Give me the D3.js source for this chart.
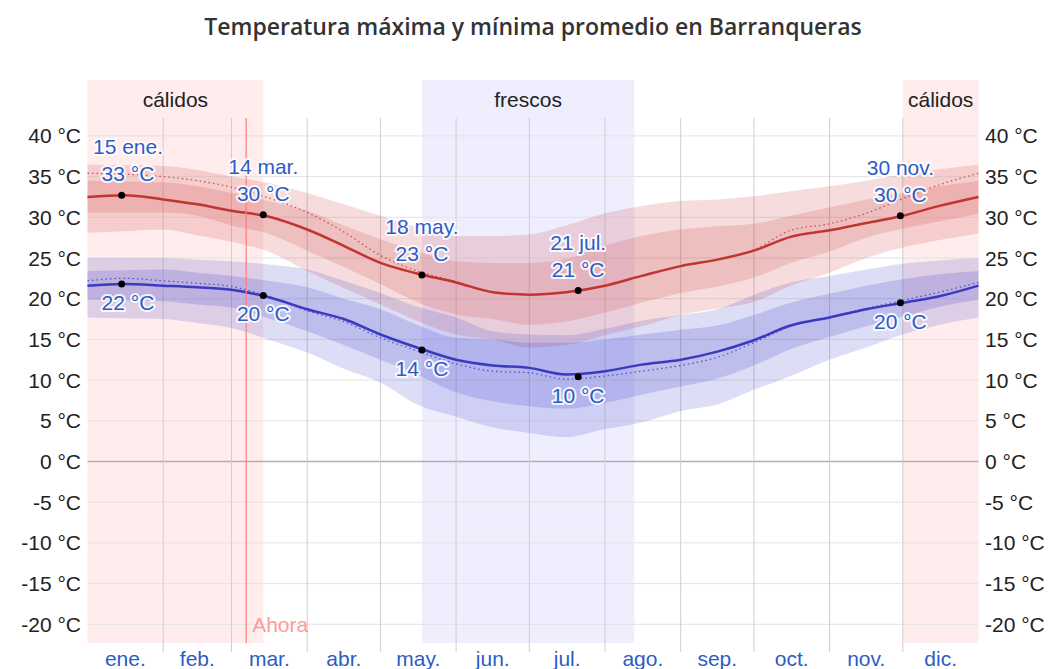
<!DOCTYPE html>
<html>
<head>
<meta charset="utf-8">
<script src="https://cdn.jsdelivr.net/npm/d3@7"></script>
<style>
  html, body { margin: 0; padding: 0; background: #fff; }
  svg { display: block; }
  text { font-family: "Liberation Sans", Arial, sans-serif; }
</style>
</head>
<body>
<svg id="chart" width="1051" height="669"></svg>
<script>
// Day of year for each sample (half-month steps)
const days = [0, 15, 31, 45, 59, 74, 90, 105, 120, 135, 151, 166, 181, 196, 212, 227, 243, 258, 273, 288, 304, 319, 334, 349, 365];

// Average daily high (°C) and its percentile bands
const hiAvg  = [32.5, 32.7, 32.2, 31.6, 30.8, 30.1, 28.5, 26.5, 24.4, 23.1, 22.0, 20.8, 20.5, 20.8, 21.6, 22.8, 24.0, 24.8, 25.9, 27.6, 28.4, 29.3, 30.2, 31.4, 32.5];
const hiFeel = [35.4, 35.3, 35.0, 34.5, 33.7, 32.4, 30.6, 28.2, 25.3, 23.4, 22.1, 20.8, 20.5, 20.8, 21.6, 22.8, 24.0, 24.8, 26.0, 28.4, 29.2, 30.5, 32.3, 34.0, 35.4];
const hiP90  = [36.5, 36.4, 36.3, 35.8, 35.0, 34.2, 33.0, 31.6, 30.2, 28.8, 27.7, 27.7, 27.9, 29.0, 30.5, 31.4, 32.0, 32.2, 32.6, 33.2, 33.8, 34.5, 35.3, 35.9, 36.5];
const hiP75  = [34.5, 34.4, 34.3, 33.8, 33.0, 32.0, 30.8, 29.0, 27.3, 25.8, 24.6, 24.4, 24.4, 24.9, 26.5, 27.7, 28.5, 28.9, 29.2, 30.2, 31.2, 32.2, 33.0, 33.8, 34.5];
const hiP25  = [30.6, 30.6, 30.6, 30.2, 29.0, 28.0, 25.9, 23.9, 21.8, 19.6, 18.1, 17.5, 16.8, 17.2, 18.3, 19.5, 20.7, 21.5, 22.6, 24.4, 25.8, 27.5, 28.6, 29.5, 30.4];
const hiP10  = [28.1, 28.3, 28.5, 27.8, 27.0, 25.8, 23.4, 21.3, 19.3, 17.3, 15.6, 15.0, 14.0, 14.3, 15.5, 16.6, 18.0, 18.8, 19.6, 21.6, 23.2, 25.0, 26.3, 27.2, 28.0];

// Average daily low (°C) and its percentile bands
const loAvg  = [21.6, 21.8, 21.6, 21.4, 21.1, 20.2, 18.7, 17.5, 15.6, 14.0, 12.5, 11.8, 11.5, 10.7, 11.1, 11.9, 12.5, 13.5, 14.9, 16.7, 17.7, 18.7, 19.5, 20.3, 21.6];
const loFeel = [22.2, 22.5, 22.2, 21.9, 21.5, 20.3, 18.5, 17.2, 15.2, 13.6, 12.0, 11.1, 10.9, 10.1, 10.5, 11.1, 11.8, 12.8, 14.6, 16.6, 17.7, 18.8, 19.8, 20.8, 22.0];
const loP90  = [25.0, 25.0, 25.0, 24.8, 24.6, 24.2, 23.6, 22.2, 20.7, 19.0, 17.7, 16.0, 15.6, 15.5, 16.3, 17.3, 18.0, 18.7, 20.5, 22.0, 22.8, 23.6, 24.3, 24.7, 25.0];
const loP75  = [23.4, 23.5, 23.6, 23.2, 22.8, 22.2, 21.4, 20.0, 18.7, 16.8, 15.2, 15.0, 14.6, 14.6, 15.0, 15.6, 16.2, 16.7, 18.0, 19.5, 20.6, 21.6, 22.4, 23.0, 23.4];
const loP25  = [19.9, 19.8, 19.7, 19.3, 18.9, 17.6, 16.0, 14.3, 12.5, 10.7, 8.5, 7.4, 6.8, 6.5, 7.2, 8.2, 9.2, 10.2, 11.8, 13.8, 15.3, 16.6, 17.8, 19.0, 19.9];
const loP10  = [17.7, 17.6, 17.5, 17.0, 16.4, 15.0, 13.4, 11.4, 9.7, 7.0, 5.5, 4.2, 3.5, 3.0, 4.0, 4.8, 6.2, 7.0, 8.8, 10.5, 12.5, 14.0, 15.6, 16.8, 17.7];

// Months
const monthNames = ["ene.", "feb.", "mar.", "abr.", "may.", "jun.", "jul.", "ago.", "sep.", "oct.", "nov.", "dic."];
const monthStarts = [0, 31, 59, 90, 120, 151, 181, 212, 243, 273, 304, 334, 365];

// Temperature ticks
const yTicks = [-20, -15, -10, -5, 0, 5, 10, 15, 20, 25, 30, 35, 40];

// Seasons: start day, end day, label
const seasonStart = [0, 137, 334];
const seasonEnd   = [72, 224, 365];
const seasonName  = ["cálidos", "frescos", "cálidos"];
const seasonKind  = ["warm", "cool", "warm"];

// Highlighted days
const markDays   = [14, 72, 137, 201, 333];
const markDates  = ["15 ene.", "14 mar.", "18 may.", "21 jul.", "30 nov."];
const markHi     = [32.7, 30.3, 22.9, 21.0, 30.2];
const markLo     = [21.8, 20.4, 13.7, 10.4, 19.5];

// Current date marker
const nowDay = 65;
const nowLabel = "Ahora";

const title = "Temperatura máxima y mínima promedio en Barranqueras";

// ---------------------------------------------------------------
const svg = d3.select("#chart");
const x = d3.scaleLinear().domain([0, 365]).range([87.5, 978.5]);
const y = d3.scaleLinear().domain([-22.3, 42.2]).range([643, 118]);
const plotTop = 118, plotBottom = 643, bandTop = 80;

const blue = "#2d5cc6";
const fs = "21px";

// title
svg.append("text")
  .attr("x", 533).attr("y", 35)
  .attr("text-anchor", "middle")
  .style("font-family", "'Open Sans', 'Noto Sans', sans-serif")
  .style("font-weight", 600)
  .style("font-size", "23px")
  .attr("fill", "#333")
  .text(title);

// season backgrounds
const seasons = seasonStart.map((s, i) => ({ s, e: seasonEnd[i], name: seasonName[i], kind: seasonKind[i] }));
svg.append("g").selectAll("rect").data(seasons).join("rect")
  .attr("x", d => x(d.s)).attr("y", bandTop)
  .attr("width", d => x(d.e) - x(d.s)).attr("height", plotBottom - bandTop)
  .attr("fill", d => d.kind === "warm" ? "#ffecec" : "#eeeeff");

svg.append("g").selectAll("text").data(seasons).join("text")
  .attr("x", d => (x(d.s) + x(d.e)) / 2).attr("y", 107)
  .attr("text-anchor", "middle")
  .style("font-size", fs)
  .attr("fill", "#222")
  .text(d => d.name);

// horizontal grid
const grid = svg.append("g");
grid.selectAll("line.h").data(yTicks).join("line")
  .attr("class", "h")
  .attr("x1", x(0)).attr("x2", x(365))
  .attr("y1", d => y(d)).attr("y2", d => y(d))
  .attr("stroke", d => d === 0 ? "#b0b0b0" : "#e3e3e3")
  .attr("stroke-width", d => d === 0 ? 1.5 : 1);

// vertical month grid
grid.selectAll("line.v").data(monthStarts.slice(1, 12)).join("line")
  .attr("class", "v")
  .attr("x1", d => x(d)).attr("x2", d => x(d))
  .attr("y1", plotTop).attr("y2", 652)
  .attr("stroke", "#cfcfcf").attr("stroke-width", 1);

// y axis labels (left and right)
const fmt = d => d + " °C";
svg.append("g").selectAll("text").data(yTicks).join("text")
  .attr("x", 81).attr("y", d => y(d)).attr("dy", "0.36em")
  .attr("text-anchor", "end")
  .style("font-size", fs).attr("fill", "#222")
  .text(fmt);
svg.append("g").selectAll("text").data(yTicks).join("text")
  .attr("x", 985).attr("y", d => y(d)).attr("dy", "0.36em")
  .attr("text-anchor", "start")
  .style("font-size", fs).attr("fill", "#222")
  .text(fmt);

// month labels
svg.append("g").selectAll("text").data(monthNames).join("text")
  .attr("x", (d, i) => x((monthStarts[i] + monthStarts[i + 1]) / 2))
  .attr("y", 666)
  .attr("text-anchor", "middle")
  .style("font-size", fs).attr("fill", blue)
  .text(d => d);

// bands
const area = (lo, hi) => d3.area()
  .x((d, i) => x(days[i]))
  .y0((d, i) => y(lo[i]))
  .y1((d, i) => y(hi[i]))
  .curve(d3.curveMonotoneX)(days);

const bands = svg.append("g");
bands.append("path").attr("d", area(hiP10, hiP90)).attr("fill", "rgba(200,45,45,0.17)");
bands.append("path").attr("d", area(hiP25, hiP75)).attr("fill", "rgba(200,45,45,0.17)");
bands.append("path").attr("d", area(loP10, loP90)).attr("fill", "rgba(60,60,200,0.175)");
bands.append("path").attr("d", area(loP25, loP75)).attr("fill", "rgba(60,60,200,0.19)");

// lines
const line = vals => d3.line()
  .x((d, i) => x(days[i]))
  .y((d, i) => y(vals[i]))
  .curve(d3.curveMonotoneX)(days);

const redLine = "#c0352f", blueLine = "#3a3ac0";
const lines = svg.append("g").attr("fill", "none");
lines.append("path").attr("d", line(hiFeel)).attr("stroke", redLine).attr("stroke-width", 1.3).attr("stroke-dasharray", "1.5,3").attr("opacity", 0.8);
lines.append("path").attr("d", line(loFeel)).attr("stroke", blueLine).attr("stroke-width", 1.3).attr("stroke-dasharray", "1.5,3").attr("opacity", 0.8);
lines.append("path").attr("d", line(hiAvg)).attr("stroke", redLine).attr("stroke-width", 2.5);
lines.append("path").attr("d", line(loAvg)).attr("stroke", blueLine).attr("stroke-width", 2.5);

// current date marker
svg.append("line")
  .attr("x1", x(nowDay)).attr("x2", x(nowDay))
  .attr("y1", plotTop).attr("y2", plotBottom)
  .attr("stroke", "#ff7b7b").attr("stroke-width", 1.2);
svg.append("text")
  .attr("x", x(nowDay) + 6).attr("y", 632)
  .style("font-size", fs).attr("fill", "#ff9a9a")
  .text(nowLabel);

// highlighted points and labels
const marks = markDays.map((d, i) => ({ day: d, date: markDates[i], hi: markHi[i], lo: markLo[i] }));
const mg = svg.append("g");
mg.selectAll("circle.hi").data(marks).join("circle")
  .attr("cx", d => x(d.day)).attr("cy", d => y(d.hi)).attr("r", 3.5).attr("fill", "#000");
mg.selectAll("circle.lo").data(marks).join("circle")
  .attr("cx", d => x(d.day)).attr("cy", d => y(d.lo)).attr("r", 3.5).attr("fill", "#000");

const halo = sel => sel
  .style("font-size", fs)
  .attr("fill", blue)
  .attr("stroke", "rgba(255,255,255,0.85)")
  .attr("stroke-width", 4)
  .attr("stroke-linejoin", "round")
  .style("paint-order", "stroke");

const lx = d => Math.max(x(d.day), 128);
mg.selectAll("text.date").data(marks).join("text")
  .attr("class", "date")
  .attr("x", lx).attr("y", d => y(d.hi) - 41)
  .attr("text-anchor", "middle")
  .call(halo)
  .text(d => d.date);
mg.selectAll("text.hiv").data(marks).join("text")
  .attr("class", "hiv")
  .attr("x", lx).attr("y", d => y(d.hi) - 14)
  .attr("text-anchor", "middle")
  .call(halo)
  .text(d => Math.round(d.hi) + " °C");
mg.selectAll("text.lov").data(marks).join("text")
  .attr("class", "lov")
  .attr("x", lx).attr("y", d => y(d.lo) + 26)
  .attr("text-anchor", "middle")
  .call(halo)
  .text(d => Math.round(d.lo) + " °C");
</script>
</body>
</html>
